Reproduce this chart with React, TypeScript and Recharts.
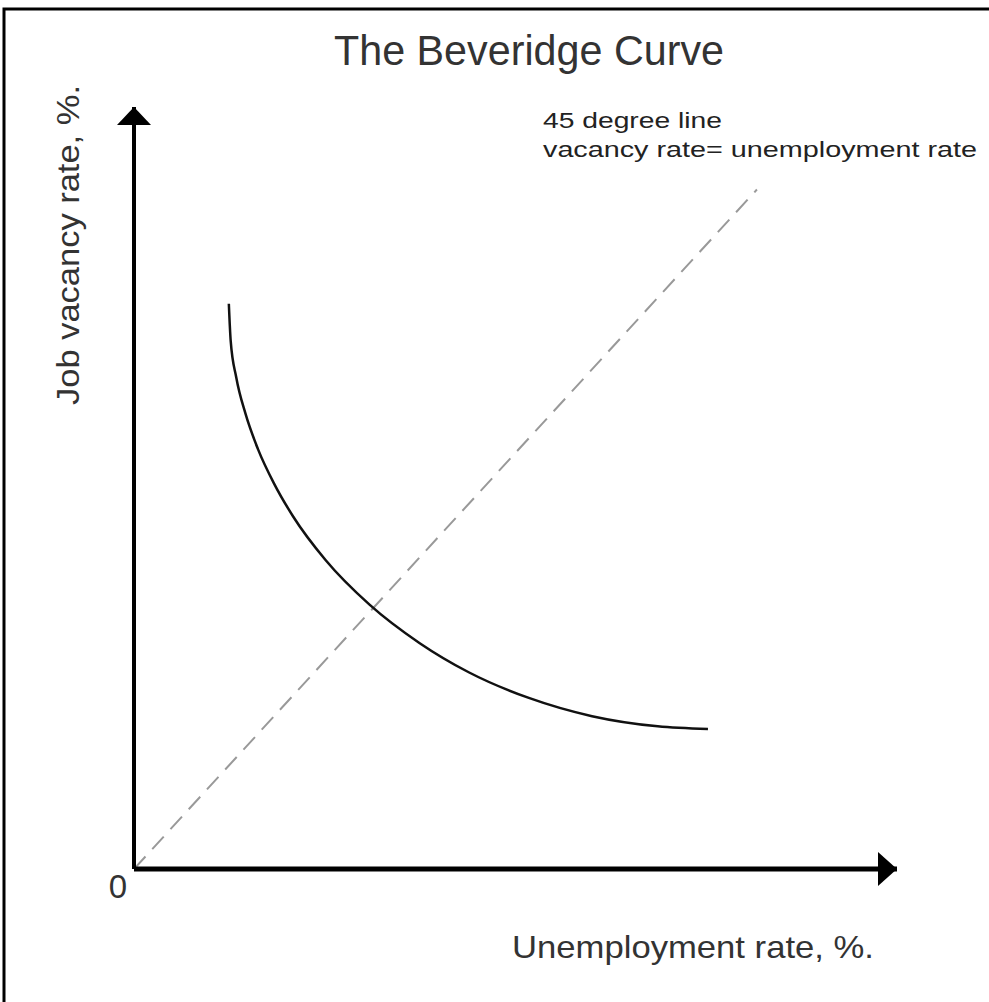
import React from "react";
import {
  ComposedChart,
  Line,
  XAxis,
  YAxis,
  ReferenceDot,
  Label,
  Customized,
} from "recharts";

// Beveridge curve (unemployment %, vacancy %)
const unemployment = [1.53, 1.56, 1.65, 1.8, 2.0, 2.26, 2.57, 3.09, 3.8, 4.61, 5.4, 6.37, 7.39, 8.45, 9.26];
const vacancy = [8.36, 7.81, 7.27, 6.73, 6.21, 5.7, 5.21, 4.57, 3.91, 3.34, 2.91, 2.53, 2.26, 2.11, 2.07];

// 45 degree line, vacancy rate = unemployment rate
const diagU = [0, 10.05];
const diagV = [0, 10.05];

const xMax = 12.31;
const yMax = 11.27;

const curveData = unemployment.map((u, i) => ({ x: u, y: vacancy[i] }));
const diagData = diagU.map((u, i) => ({ x: u, y: diagV[i] }));

const FONT = "'Liberation Sans', Arial, sans-serif";

const ArrowRight = (props: any) => {
  const { cx, cy } = props;
  return <polygon points={`${cx},${cy} ${cx - 19},${cy - 17} ${cx - 19},${cy + 17}`} fill="#000" />;
};

const ArrowUp = (props: any) => {
  const { cx, cy } = props;
  return <polygon points={`${cx},${cy} ${cx - 17},${cy + 18} ${cx + 17},${cy + 18}`} fill="#000" />;
};

const ZeroTick = (props: any) => {
  const { x, y } = props;
  return (
    <text x={x - 16} y={y + 21} textAnchor="middle" fontFamily={FONT} fontSize={33} fill="#333">
      0
    </text>
  );
};

const Decor = () => (
  <g>
    <rect x={4} y={9} width={1000} height={1000} fill="none" stroke="#000" strokeWidth={3} />
    <text x={334} y={65} fontFamily={FONT} fontSize={42} fill="#333" textLength={390} lengthAdjust="spacingAndGlyphs">
      The Beveridge Curve
    </text>
    <text x={543} y={128} fontFamily={FONT} fontSize={22} fill="#222" textLength={179} lengthAdjust="spacingAndGlyphs">
      45 degree line
    </text>
    <text x={543} y={157} fontFamily={FONT} fontSize={22} fill="#222" textLength={434} lengthAdjust="spacingAndGlyphs">
      vacancy rate= unemployment rate
    </text>
  </g>
);

export default function App() {
  return (
    <div style={{ position: "absolute", left: 0, top: 0, width: 989, height: 1002, background: "#fff" }}>
      <ComposedChart width={989} height={1002} margin={{ top: 107, right: 92, bottom: 103, left: 74 }}>
        <XAxis
          type="number"
          dataKey="x"
          domain={[0, xMax]}
          allowDataOverflow
          ticks={[0]}
          tick={<ZeroTick />}
          tickLine={false}
          height={30}
          axisLine={{ stroke: "#000", strokeWidth: 5 }}
        >
          <Label
            content={() => (
              <text x={512} y={958} fontFamily={FONT} fontSize={32} fill="#333" textLength={362} lengthAdjust="spacingAndGlyphs">
                Unemployment rate, %.
              </text>
            )}
          />
        </XAxis>
        <YAxis
          type="number"
          dataKey="y"
          domain={[0, yMax]}
          allowDataOverflow
          tick={false}
          tickLine={false}
          width={60}
          axisLine={{ stroke: "#000", strokeWidth: 4 }}
        >
          <Label
            content={() => (
              <text
                x={79}
                y={405}
                transform="rotate(-90 79 405)"
                fontFamily={FONT}
                fontSize={32}
                fill="#333"
                textLength={320}
                lengthAdjust="spacingAndGlyphs"
              >
                Job vacancy rate, %.
              </text>
            )}
          />
        </YAxis>
        <Line
          data={diagData}
          dataKey="y"
          type="linear"
          stroke="#999"
          strokeWidth={2}
          strokeDasharray="17 10"
          dot={false}
          activeDot={false}
          isAnimationActive={false}
        />
        <Line
          data={curveData}
          dataKey="y"
          type="monotone"
          stroke="#111"
          strokeWidth={2.5}
          dot={false}
          activeDot={false}
          isAnimationActive={false}
        />
        <ReferenceDot x={xMax} y={0} r={0} shape={<ArrowRight />} ifOverflow="visible" />
        <ReferenceDot x={0} y={yMax} r={0} shape={<ArrowUp />} ifOverflow="visible" />
        <Customized component={<Decor />} />
      </ComposedChart>
    </div>
  );
}
